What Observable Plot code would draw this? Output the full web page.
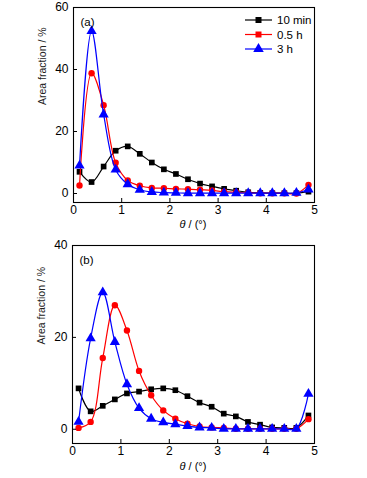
<!DOCTYPE html>
<html>
<head>
<meta charset="utf-8">
<script src="https://cdn.jsdelivr.net/npm/d3@7"></script>
<script src="https://cdn.jsdelivr.net/npm/@observablehq/plot@0.6"></script>
<style>
  body { margin: 0; background: #fff; font-family: "Liberation Sans", Arial, sans-serif; }
  #wrap { position: relative; width: 367px; height: 478px; overflow: hidden; }
  .panel { position: absolute; left: 0; }
  .xlab { position: absolute; width: 367px; text-align: center; font-size: 11px; left: 0; }
  .xlab span { position: absolute; left: 193px; transform: translateX(-50%); white-space: nowrap; }
  #legend { position: absolute; left: 244px; top: 13px; font-size: 11.5px; }
</style>
</head>
<body>
<div id="wrap"></div>
<script>
// ---- data ----
const thetaBins = [0.125,0.375,0.625,0.875,1.125,1.375,1.625,1.875,2.125,2.375,2.625,2.875,3.125,3.375,3.625,3.875,4.125,4.375,4.625,4.875];
const seriesNames = ["10 min", "0.5 h", "3 h"];
const seriesColors = ["#000000", "#ff0000", "#0000ff"];
const seriesSymbols = ["square", "circle", "triangle"];

const a10min = [7.0,3.7,8.7,13.8,15.2,12.8,10.0,7.8,6.3,4.6,3.2,2.3,1.5,0.9,0.4,0.2,0.1,0.1,0.1,0.6];
const a05h   = [2.6,38.8,28.5,9.9,4.2,2.5,1.8,1.7,1.5,1.4,1.2,1.0,0.6,0.4,0.2,0.1,0.1,0.1,0.0,2.8];
const a3h    = [9.0,52.4,25.5,7.7,3.0,1.2,0.5,0.3,0.2,0.1,0.1,0.1,0.1,0.1,0.1,0.1,0.1,0.1,0.2,1.3];

const b10min = [8.9,3.9,5.1,6.5,7.8,8.2,8.7,8.9,8.5,7.2,5.8,4.9,3.4,2.8,1.6,1.0,0.4,0.3,0.3,3.0];
const b05h   = [0.3,1.6,15.5,27.0,21.5,12.7,7.4,4.1,2.3,1.2,0.6,0.4,0.3,0.1,0.1,0.1,0.1,0.1,0.1,2.2];
const b3h    = [1.6,19.8,29.8,19.0,9.8,4.6,2.3,1.5,1.1,0.7,0.4,0.3,0.1,0.1,0.1,0.1,0.1,0.1,0.1,7.7];

const xTicks = [0,1,2,3,4,5];
const yTicksA = [0,20,40,60];
const yTicksB = [0,20,40];
const yAxisLabel = "Area fraction / %";

function toRows(arrs) {
  const rows = [];
  arrs.forEach((arr, si) => arr.forEach((v, i) => rows.push({theta: thetaBins[i], value: v, s: seriesNames[si], si})));
  return rows;
}

function panel(arrs, yDomain, yTicks, tag, opts) {
  const rows = toRows(arrs);
  const marks = [Plot.frame({stroke: "#000", strokeWidth: 1.1})];
  seriesNames.forEach((name, si) => {
    const d = rows.filter(r => r.si === si);
    marks.push(Plot.line(d, {x: "theta", y: "value", stroke: seriesColors[si], strokeWidth: 1.2, curve: "catmull-rom"}));
    marks.push(Plot.dot(d, {x: "theta", y: "value", fill: seriesColors[si], stroke: "none",
      symbol: seriesSymbols[si], r: si === 2 ? 3.8 : 3.2}));
  });
  marks.push(Plot.axisX({ticks: xTicks, tickSize: -4, tickPadding: 7, tickFormat: d => d, fontSize: 12, label: null}));
  marks.push(Plot.axisY({ticks: yTicks, tickSize: -4, tickPadding: 9, tickFormat: d => d, fontSize: 12, label: null}));
  marks.push(Plot.text([tag], {text: d => d, frameAnchor: "top-left", dx: 7, dy: 10, fontSize: 11.5}));
  marks.push(Plot.text([yAxisLabel], {text: d => d, frameAnchor: "left", dx: -31, rotate: -90, fontSize: 10.5, fill: "#222"}));
  return Plot.plot({
    width: 367, height: opts.height,
    marginTop: opts.mt, marginBottom: opts.mb, marginLeft: opts.ml, marginRight: opts.mr,
    x: {domain: [0, 5]},
    y: {domain: yDomain},
    style: {fontFamily: "Liberation Sans, Arial, sans-serif", color: "#000", background: "transparent", overflow: "visible"},
    marks
  });
}

const wrap = document.getElementById("wrap");

const pa = panel([a10min, a05h, a3h], [-2.9, 60], yTicksA, "(a)", {height: 239, mt: 7, mb: 37, ml: 73, mr: 53});
pa.classList.add("panel"); pa.style.top = "0px";
wrap.appendChild(pa);

const pb = panel([b10min, b05h, b3h], [-3.1, 40], yTicksB, "(b)", {height: 239, mt: 6, mb: 35, ml: 72, mr: 53});
pb.classList.add("panel"); pb.style.top = "239px";
wrap.appendChild(pb);

// x axis labels
[[218], [460]].forEach(([top]) => {
  const d = document.createElement("div");
  d.className = "xlab"; d.style.top = top + "px";
  d.innerHTML = '<span><i>θ</i> / (°)</span>';
  wrap.appendChild(d);
});

// legend
const lg = document.createElement("div");
lg.id = "legend";
const ns = "http://www.w3.org/2000/svg";
const svg = document.createElementNS(ns, "svg");
svg.setAttribute("width", "90"); svg.setAttribute("height", "48");
seriesNames.forEach((name, i) => {
  const cy = 7 + i * 14.5;
  const line = document.createElementNS(ns, "line");
  line.setAttribute("x1", 1); line.setAttribute("x2", 28); line.setAttribute("y1", cy); line.setAttribute("y2", cy);
  line.setAttribute("stroke", seriesColors[i]); line.setAttribute("stroke-width", 1.2);
  svg.appendChild(line);
  const sym = d3.symbol().type(i === 2 ? d3.symbolTriangle : d3.symbolSquare).size(i === 2 ? 48 : 36);
  const p = document.createElementNS(ns, "path");
  p.setAttribute("d", sym()); p.setAttribute("transform", `translate(14.5,${cy})`);
  p.setAttribute("fill", seriesColors[i]);
  svg.appendChild(p);
  const t = document.createElementNS(ns, "text");
  t.setAttribute("x", 33); t.setAttribute("y", cy + 4); t.setAttribute("font-size", 11.5);
  t.setAttribute("font-family", "Liberation Sans, Arial, sans-serif");
  t.textContent = name;
  svg.appendChild(t);
});
lg.appendChild(svg);
wrap.appendChild(lg);
</script>
</body>
</html>
